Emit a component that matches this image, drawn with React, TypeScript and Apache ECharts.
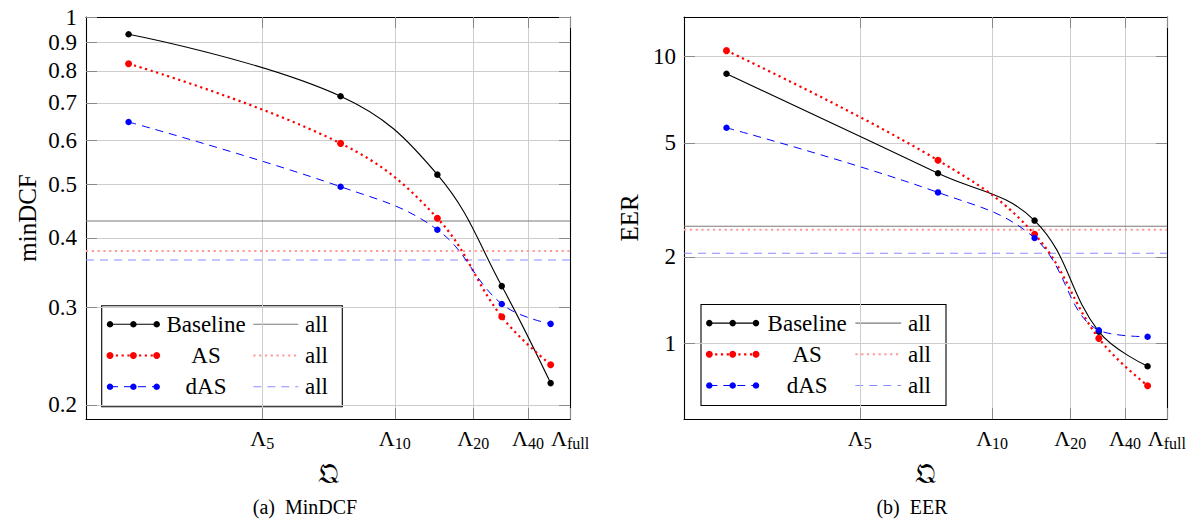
import React, { useEffect, useRef } from "react";
import * as echarts from "echarts";

// ---------- data ----------
const xTickValues = [36.4, 63.8, 80.0, 91.3, 100];
const xTickLabels = ["5", "10", "20", "40", "full"];
const xPoints = [8.8, 52.6, 72.6, 85.9, 96.0];

const dcfTicks = [0.2, 0.3, 0.4, 0.5, 0.6, 0.7, 0.8, 0.9, 1];
const dcfBaseline = [0.931, 0.72, 0.52, 0.3275, 0.219];
const dcfAS = [0.824, 0.592, 0.434, 0.2884, 0.2363];
const dcfDAS = [0.647, 0.4946, 0.4138, 0.304, 0.28];
const dcfAll = [0.429, 0.379, 0.365];

const eerTicks = [1, 2, 5, 10];
const eerBaseline = [8.72, 3.92, 2.68, 1.098, 0.831];
const eerAS = [10.5, 4.35, 2.4, 1.04, 0.711];
const eerDAS = [5.65, 3.36, 2.33, 1.11, 1.054];
const eerAll = [2.56, 2.49, 2.06];

const seriesNames = ["Baseline", "AS", "dAS"];
const allLabel = "all";

// ---------- styles ----------
const FONT = "Liberation Serif";
const styles = [
  { color: "#000000", type: "solid" as any, width: 1.1, size: 6.5, allColor: "#7a7a7a", allType: "solid" as any, allWidth: 1.1 },
  { color: "#ff0000", type: [2.2, 3.6], width: 2.2, size: 7, allColor: "#ff9a9a", allType: [2.2, 3.6], allWidth: 2 },
  { color: "#0000ff", type: [8, 6], width: 1, size: 6.5, allColor: "#8c8cff", allType: [8, 6], allWidth: 1.1 },
];

const GRID_TOP = 17;
const GRID_H = 402;
const GRID_W = 484;

function makePanel(p: number, left: number, yMin: number, yMax: number, yTicks: number[], yName: string, yNameGap: number, labelMargin: number, vals: number[][], allVals: number[]) {
  const grid = { left, top: GRID_TOP, width: GRID_W, height: GRID_H };
  const tick = { show: true, inside: true, length: 11, lineStyle: { color: "#8a8a8a", width: 1 } };
  const axisLine = { show: true, onZero: false, lineStyle: { color: "#000", width: 1.1 } };
  const xb = {
    gridIndex: p, type: "value", min: 0, max: 100, position: "bottom",
    axisLine, axisTick: { ...tick, customValues: xTickValues },
    axisLabel: {
      customValues: xTickValues, margin: 6, color: "#000", fontFamily: FONT, fontSize: 22,
      formatter: (v: number) => {
        const i = xTickValues.findIndex((t) => Math.abs(t - v) < 1e-6);
        return `{L|Λ}{s|${xTickLabels[i]}}`;
      },
      rich: {
        L: { fontSize: 22, fontFamily: FONT, lineHeight: 26, color: "#000" },
        s: { fontSize: 16, fontFamily: FONT, lineHeight: 15, verticalAlign: "bottom", color: "#000" },
      },
    },
    splitLine: { show: true, lineStyle: { color: "#cdcdcd", width: 1 } },
    name: "𝔔", nameLocation: "middle", nameGap: 40,
    nameTextStyle: { fontSize: 28, color: "#000", fontFamily: FONT },
  };
  const xt = {
    gridIndex: p, type: "value", min: 0, max: 100, position: "top",
    axisLine, axisTick: { ...tick, customValues: xTickValues },
    axisLabel: { show: false }, splitLine: { show: false },
  };
  const yl = {
    gridIndex: p, type: "log", logBase: 10, min: yMin, max: yMax, position: "left",
    axisLine, axisTick: { ...tick, customValues: yTicks },
    axisLabel: {
      customValues: yTicks, margin: labelMargin, color: "#000", fontSize: 23, fontFamily: FONT,
      formatter: (v: number) => String(Number(Number(v).toPrecision(6))),
    },
    splitLine: { show: true, lineStyle: { color: "#cdcdcd", width: 1 } },
    name: yName, nameLocation: "middle", nameGap: yNameGap, nameRotate: 90,
    nameTextStyle: { fontSize: 25, color: "#000", fontFamily: FONT },
  };
  const yr = {
    gridIndex: p, type: "log", logBase: 10, min: yMin, max: yMax, position: "right",
    axisLine, axisTick: { ...tick, customValues: yTicks },
    axisLabel: { show: false }, splitLine: { show: false },
  };
  const xi = p * 2;
  const yi = p * 2;
  const series: any[] = [];
  seriesNames.forEach((name, k) => {
    const s = styles[k];
    series.push({
      name: `${name}-${p}`, type: "line", xAxisIndex: xi, yAxisIndex: yi,
      data: xPoints.map((x, i) => [x, vals[k][i]]),
      smooth: 0.4, symbol: "circle", symbolSize: s.size, showSymbol: true,
      lineStyle: { color: s.color, width: s.width, type: s.type },
      itemStyle: { color: s.color }, z: 3 + k,
    });
    series.push({
      name: `${allLabel}-${name}-${p}`, type: "line", xAxisIndex: xi, yAxisIndex: yi,
      data: [[0, allVals[k]], [100, allVals[k]]], symbol: "none", silent: true,
      lineStyle: { color: s.allColor, width: s.allWidth, type: s.allType }, z: 2,
    });
  });
  return { grid, xAxes: [xb, xt], yAxes: [yl, yr], series };
}

function txt(text: string, x: number, y: number, size: number, align: string) {
  return {
    type: "text", x, y,
    style: { text, font: `${size}px Liberation Serif`, fill: "#000", align, verticalAlign: "middle" },
  };
}

function legendGroup(x0: number, y0: number, w: number) {
  const children: any[] = [];
  children.push({
    type: "rect", shape: { x: 0, y: 0, width: w, height: 101 },
    style: { fill: "#ffffff", stroke: "#000000", lineWidth: 1.1 },
  });
  const sx = w / 240.6;
  seriesNames.forEach((name, k) => {
    const s = styles[k];
    const cy = 18.6 + k * 31.2;
    children.push({
      type: "line", shape: { x1: 8.3, y1: cy, x2: 55, y2: cy },
      style: { stroke: s.color, lineWidth: s.width, lineDash: s.type === "solid" ? null : s.type },
    });
    [8.3, 31.7, 55].forEach((cx) => {
      children.push({ type: "circle", shape: { cx, cy, r: s.size / 2 }, style: { fill: s.color } });
    });
    children.push(txt(name, 104.3 * sx, cy, 23, "center"));
    children.push({
      type: "line", shape: { x1: 151.6 * sx, y1: cy, x2: 196.6 * sx, y2: cy },
      style: { stroke: s.allColor, lineWidth: s.allWidth, lineDash: s.allType === "solid" ? null : s.allType },
    });
    children.push(txt(allLabel, 203.3 * sx, cy, 23, "left"));
  });
  return { type: "group", x: x0, y: y0, z: 100, children };
}

export default function App() {
  const ref = useRef<HTMLDivElement>(null);
  useEffect(() => {
    document.body.style.margin = "0";
    const chart = echarts.init(ref.current!, null, { renderer: "svg" });
    const a = makePanel(0, 86, 0.1887, 1, dcfTicks, "minDCF", 46, 9, [dcfBaseline, dcfAS, dcfDAS], dcfAll);
    const b = makePanel(1, 684, 0.544, 13.76, eerTicks, "EER", 42, 8, [eerBaseline, eerAS, eerDAS], eerAll);
    chart.setOption({
      animation: false,
      backgroundColor: "#ffffff",
      textStyle: { fontFamily: FONT },
      grid: [a.grid, b.grid],
      xAxis: [...a.xAxes, ...b.xAxes],
      yAxis: [...a.yAxes, ...b.yAxes],
      series: [...a.series, ...b.series],
      graphic: [
        legendGroup(101.7, 305.7, 240.6),
        legendGroup(701, 304.5, 245),
        { ...txt("(a)  MinDCF", 305, 507, 20, "center"), z: 100 },
        { ...txt("(b)  EER", 912, 507, 20, "center"), z: 100 },
      ],
    });
    return () => chart.dispose();
  }, []);
  return <div ref={ref} style={{ width: 1189, height: 520 }} />;
}
